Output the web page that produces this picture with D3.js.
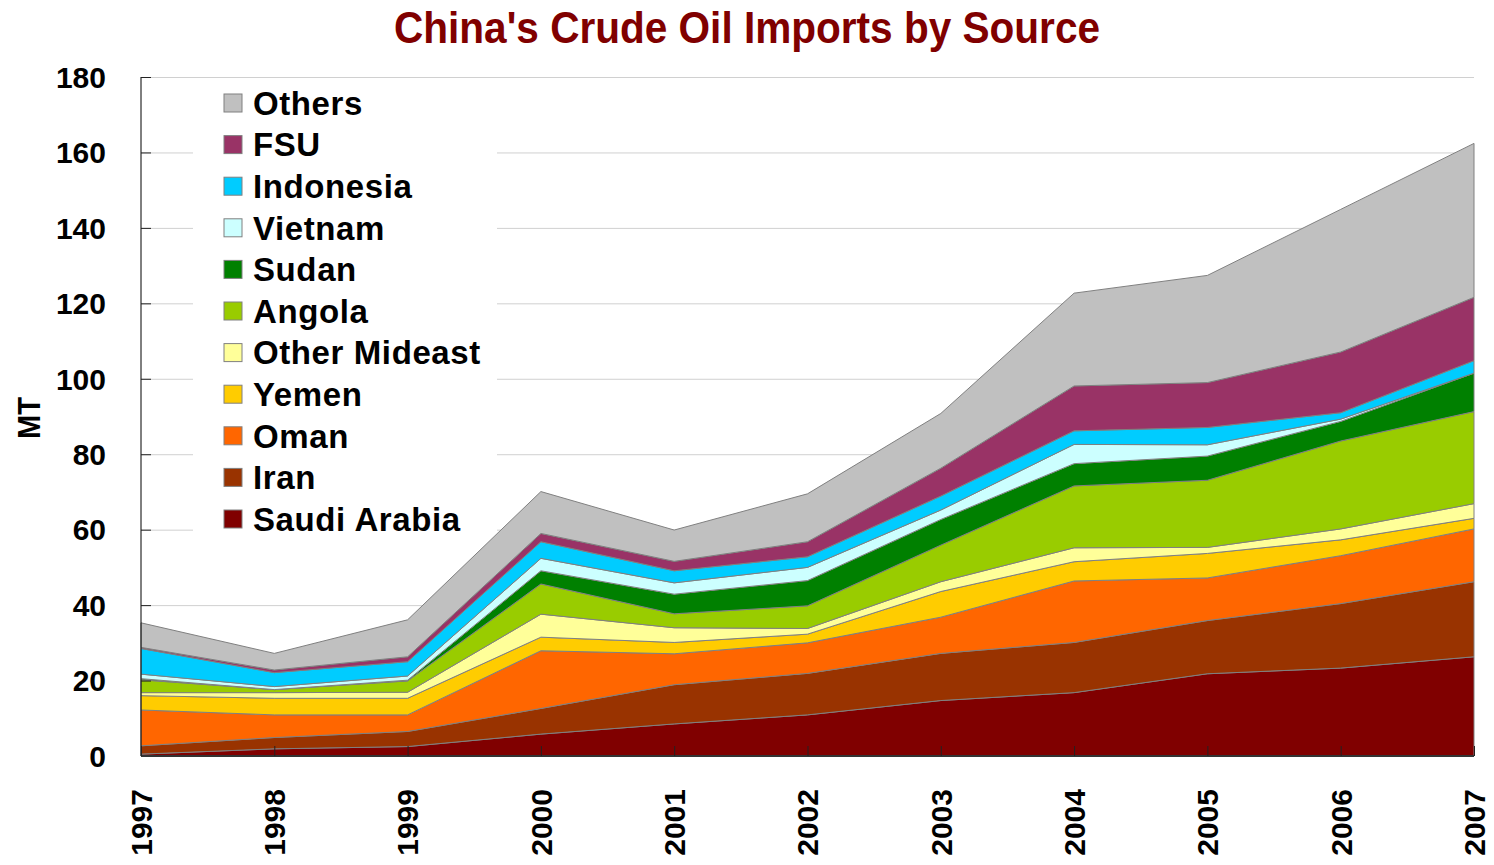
<!DOCTYPE html>
<html>
<head>
<meta charset="utf-8">
<title>China's Crude Oil Imports by Source</title>
<script src="https://cdnjs.cloudflare.com/ajax/libs/d3/7.8.5/d3.min.js"></script>
<style>
body { margin: 0; background: #fff; }
text { font-family: "Liberation Sans", Arial, sans-serif; font-weight: bold; }
.grid line { stroke: #d0d0d0; }
.grid path { display: none; }
.area { stroke: #808080; stroke-width: 1; }
</style>
</head>
<body>
<svg id="vis" width="1494" height="865"></svg>
<script>
var years = [1997, 1998, 1999, 2000, 2001, 2002, 2003, 2004, 2005, 2006, 2007];

// MT per source (bottom of the stack first)
var saudiArabia  = [0.5, 1.9, 2.5, 5.8, 8.5, 10.9, 14.7, 16.8, 21.8, 23.3, 26.3];
var iran         = [2.2, 3.0, 4.0, 6.8, 10.4, 11.0, 12.5, 13.3, 14.1, 17.1, 19.9];
var oman         = [9.5, 6.0, 4.4, 15.3, 8.2, 8.1, 9.6, 16.3, 11.3, 12.7, 14.0];
var yemen        = [3.8, 4.4, 4.4, 3.6, 3.0, 2.3, 6.8, 5.1, 6.5, 4.2, 2.8];
var otherMideast = [0.8, 1.5, 1.6, 6.1, 3.9, 1.5, 2.6, 3.7, 1.6, 2.9, 3.9];
var angola       = [3.4, 0.8, 3.0, 8.0, 3.7, 6.0, 9.7, 16.4, 17.8, 23.3, 24.4];
var sudan        = [0.3, 0.0, 0.2, 3.5, 5.2, 6.7, 6.8, 5.9, 6.4, 5.2, 10.2];
var vietnam      = [1.2, 0.8, 1.1, 3.3, 3.0, 3.5, 2.5, 5.1, 3.0, 0.6, 0.0];
var indonesia    = [6.8, 3.7, 3.8, 4.4, 3.2, 2.8, 3.7, 3.6, 4.6, 1.7, 3.3];
var fsu          = [0.3, 0.7, 1.3, 2.2, 2.5, 4.0, 7.4, 11.9, 11.9, 16.1, 16.8];
var others       = [6.5, 4.4, 9.8, 11.1, 8.3, 12.7, 14.5, 24.6, 28.4, 37.8, 40.8];

var names  = ["Saudi Arabia", "Iran", "Oman", "Yemen", "Other Mideast", "Angola",
              "Sudan", "Vietnam", "Indonesia", "FSU", "Others"];
var series = [saudiArabia, iran, oman, yemen, otherMideast, angola,
              sudan, vietnam, indonesia, fsu, others];
var colors = ["#800000", "#993300", "#FF6600", "#FFCC00", "#FFFF99", "#99CC00",
              "#008000", "#CCFFFF", "#00CCFF", "#993366", "#C0C0C0"];
var yTicks = [0, 20, 40, 60, 80, 100, 120, 140, 160, 180];

var table = years.map(function (yr, i) {
  var row = { year: yr };
  names.forEach(function (n, k) { row[n] = series[k][i]; });
  return row;
});

var svg = d3.select("#vis");
var plotLeft = 141, plotRight = 1474, plotTop = 77, plotBottom = 756;

var x = d3.scalePoint().domain(years).range([plotLeft, plotRight]);
var y = d3.scaleLinear().domain([0, 180]).range([plotBottom, plotTop]);

// gridlines
svg.append("g")
  .attr("class", "grid")
  .attr("transform", "translate(" + plotLeft + ",0)")
  .call(d3.axisRight(y).tickValues(yTicks.slice(1)).tickSize(plotRight - plotLeft).tickFormat(""));

// legend background hides the grid behind it
svg.append("rect")
  .attr("x", 193).attr("y", 79).attr("width", 304).attr("height", 462)
  .attr("fill", "#fff");

var stack = d3.stack().keys(names);
var layers = stack(table);

var area = d3.area()
  .x(function (d) { return x(d.data.year); })
  .y0(function (d) { return y(d[0]); })
  .y1(function (d) { return y(d[1]); });

svg.selectAll(".area")
  .data(layers)
  .enter().append("path")
    .attr("class", "area")
    .attr("fill", function (d, i) { return colors[i]; })
    .attr("d", area);

// y axis
var yAxis = svg.append("g")
  .attr("transform", "translate(" + plotLeft + ",0)")
  .call(d3.axisRight(y).tickValues(yTicks).tickSize(10).tickFormat(""));
yAxis.select(".domain").attr("stroke", "#000").attr("d", "M0," + plotTop + "V" + plotBottom);
yAxis.selectAll(".tick line").attr("stroke", "#222");

svg.append("g").selectAll("text")
  .data(yTicks)
  .enter().append("text")
    .attr("x", 106)
    .attr("y", function (d) { return y(d); })
    .attr("dy", "0.36em")
    .attr("text-anchor", "end")
    .attr("font-size", 30)
    .text(function (d) { return d; });

// x axis
var xAxis = svg.append("g")
  .attr("transform", "translate(0," + plotBottom + ")")
  .call(d3.axisTop(x).tickSize(10).tickFormat(""));
xAxis.select(".domain").attr("stroke", "#333").attr("stroke-width", 2)
  .attr("d", "M" + plotLeft + ",0H" + plotRight);
xAxis.selectAll(".tick line").attr("stroke", "#222");

svg.append("g").selectAll("text")
  .data(years)
  .enter().append("text")
    .attr("transform", function (d) { return "translate(" + x(d) + ",789) rotate(-90)"; })
    .attr("dy", "0.36em")
    .attr("text-anchor", "end")
    .attr("font-size", 30)
    .text(function (d) { return d; });

// axis title
svg.append("text")
  .attr("transform", "translate(40,418) rotate(-90)")
  .attr("text-anchor", "middle")
  .attr("font-size", 32)
  .attr("textLength", 42)
  .attr("lengthAdjust", "spacingAndGlyphs")
  .text("MT");

// title
svg.append("text")
  .attr("x", 747).attr("y", 43)
  .attr("text-anchor", "middle")
  .attr("font-size", 45)
  .attr("fill", "#800000")
  .attr("textLength", 706)
  .attr("lengthAdjust", "spacingAndGlyphs")
  .text("China's Crude Oil Imports by Source");

// legend, top entry is the top of the stack
var legendNames = names.slice().reverse();
var legendColors = colors.slice().reverse();
var legend = svg.append("g");
var item = legend.selectAll("g")
  .data(legendNames)
  .enter().append("g")
    .attr("transform", function (d, i) { return "translate(224," + (103 + i * 41.6) + ")"; });
item.append("rect")
  .attr("x", 0).attr("y", -9).attr("width", 18).attr("height", 18)
  .attr("fill", function (d, i) { return legendColors[i]; })
  .attr("stroke", "#808080");
item.append("text")
  .attr("x", 29).attr("dy", "0.36em")
  .attr("font-size", 33)
  .attr("letter-spacing", 0.6)
  .text(function (d) { return d; });
</script>
</body>
</html>
